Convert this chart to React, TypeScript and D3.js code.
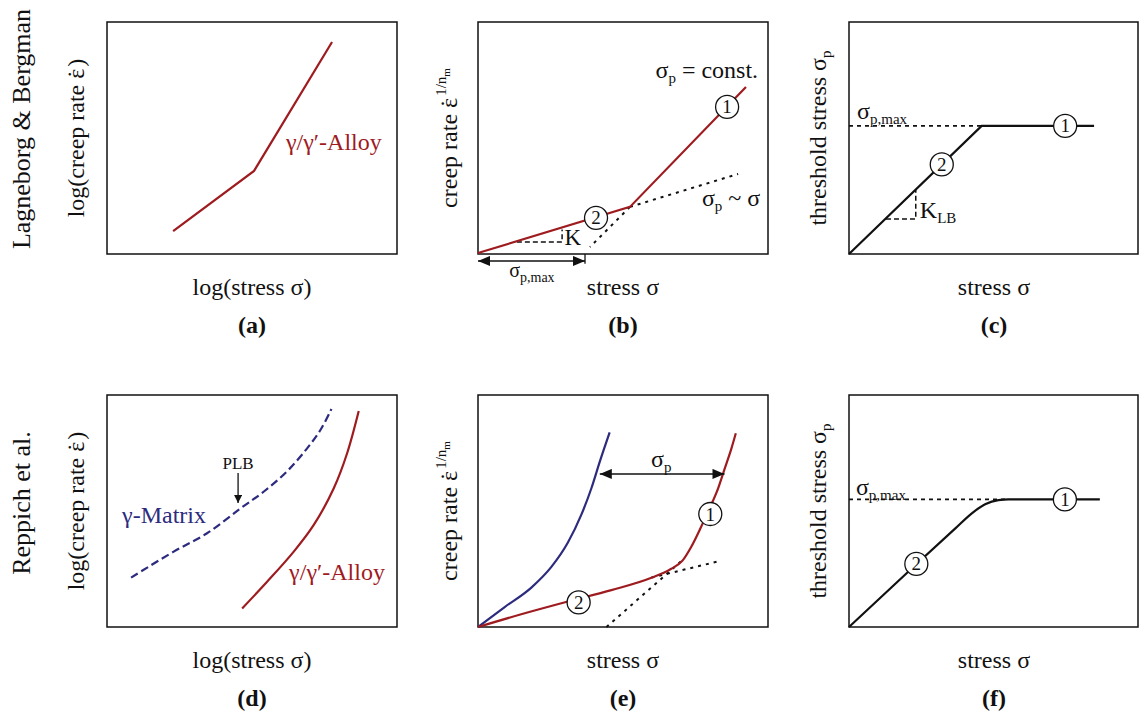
import React from "react";
import * as d3 from "d3";

type Pt = [number, number];
type Mark = { label: string; x: number; y: number };

const FONT = "Liberation Serif, Times New Roman, serif";
const RED = "#9e1b1f";
const BLUE = "#2d2b7e";
const INK = "#111";

const rowLabels = ["Lagneborg & Bergman", "Reppich et al."];
const panelLetters = ["(a)", "(b)", "(c)", "(d)", "(e)", "(f)"];

// all curves in % of the panel box: stress to the right, rate / threshold up
const aAlloy: Pt[] = [[22.8, 9.9], [50.7, 35.8], [77.6, 91.4]];

const bAlloy: Pt[] = [[0, 0.4], [52.4, 20.3], [92.4, 72.0]];
const bShallow: Pt[] = [[52.4, 20.3], [89.7, 34.5]];
const bSteep: Pt[] = [[52.4, 20.3], [38.6, 3.0]];
const bSlope: Pt[] = [[13.4, 5.2], [29.0, 5.2], [29.0, 10.6]];
const bSigmaMax: Pt[] = [[0, -3.0], [36.9, -3.0]];
const bMarks: Mark[] = [{ label: "1", x: 85.9, y: 63.4 }, { label: "2", x: 40.7, y: 15.6 }];

const cThreshold: Pt[] = [[0, 0], [45.9, 55.2], [84.8, 55.2]];
const cMax: Pt[] = [[0, 55.2], [45.9, 55.2]];
const cSlope: Pt[] = [[12.8, 15.1], [23.1, 15.1], [23.1, 27.8]];
const cMarks: Mark[] = [{ label: "1", x: 74.8, y: 55.2 }, { label: "2", x: 32.1, y: 38.6 }];

const dMatrix: Pt[] = [[8.3, 21.3], [23, 32.5], [34.5, 40.4], [46, 51.1], [54, 58.3], [62, 67], [69, 77], [73.6, 84.9], [77.4, 94]];
const dAlloy: Pt[] = [[46.6, 8], [55.2, 19.5], [64.4, 32.5], [71.3, 44], [78.2, 59.8], [82.8, 74.9], [86.8, 93.1]];
const dPLB: Pt[] = [[45.2, 66.4], [45.2, 53.4]];

const eMatrix: Pt[] = [[0, 0], [9.2, 8.6], [18.4, 17.0], [25.3, 25.9], [31, 36.4], [35.6, 48.3], [39.1, 59.8], [42, 71.3], [45.4, 83.9]];
const eAlloy: Pt[] = [[0, 0], [14.9, 5.5], [31, 11.0], [46, 15.9], [59.8, 21.2], [66.5, 25.0], [70.5, 28.6], [73.5, 34.5], [76.5, 42.0], [79.3, 49.7], [82.8, 59.8], [85.1, 68.4], [87.4, 77], [88.9, 83.5]];
const eShallow: Pt[] = [[59.8, 21.3], [83.9, 28.6]];
const eSteep: Pt[] = [[44.3, 0], [70.3, 28.6]];
const eSigmaP: Pt[] = [[42.0, 66], [85.0, 66]];
const eMarks: Mark[] = [{ label: "1", x: 80.1, y: 48.7 }, { label: "2", x: 34.7, y: 10.6 }];

const fThreshold: Pt[] = [[0, 0], [23, 26.7], [36.8, 42.5], [42.5, 49], [47.1, 52.9], [51.7, 54.7], [55.2, 55], [86.8, 55]];
const fMax: Pt[] = [[0, 55], [55.2, 55]];
const fMarks: Mark[] = [{ label: "1", x: 74.7, y: 55 }, { label: "2", x: 23.3, y: 27.2 }];

const colLeft = [107, 478, 849];
const colWidth = [290, 290, 289];
const rowTop = [22, 395];
const H = 232;

type Sc = d3.ScaleLinear<number, number>;

const path = (x: Sc, y: Sc, pts: Pt[], curve: d3.CurveFactory = d3.curveLinear) =>
  d3.line<Pt>().x(d => x(d[0])).y(d => y(d[1])).curve(curve)(pts) || "";

const Marks = ({ x, y, marks }: { x: Sc; y: Sc; marks: Mark[] }) => (
  <g>
    {marks.map(m => (
      <g key={m.label}>
        <circle cx={x(m.x)} cy={y(m.y)} r={11.5} fill="white" stroke={INK} strokeWidth={1.3} />
        <text x={x(m.x)} y={y(m.y) + 6.5} textAnchor="middle" fontSize={19}>{m.label}</text>
      </g>
    ))}
  </g>
);

const Panel = ({ col, row, xLabel, yLabel, yX, children }: {
  col: number; row: number; xLabel: React.ReactNode; yLabel: React.ReactNode; yX: number;
  children: (x: Sc, y: Sc) => React.ReactNode;
}) => {
  const left = colLeft[col];
  const top = rowTop[row];
  const w = colWidth[col];
  const x = d3.scaleLinear().domain([0, 100]).range([left, left + w]);
  const y = d3.scaleLinear().domain([0, 100]).range([top + H, top]);
  const cx = left + 145;
  return (
    <g>
      <rect x={left} y={top} width={w} height={H} fill="none" stroke={INK} strokeWidth={1.5} />
      {children(x, y)}
      <text transform={`translate(${yX},${top + 116}) rotate(-90)`} textAnchor="middle" fontSize={24}>{yLabel}</text>
      <text x={cx} y={top + 273} textAnchor="middle" fontSize={24}>{xLabel}</text>
      <text x={cx} y={top + 311} textAnchor="middle" fontSize={24} fontWeight="bold">{panelLetters[row * 3 + col]}</text>
    </g>
  );
};

const Sub = ({ children, size = 15 }: { children: React.ReactNode; size?: number }) => (
  <tspan fontSize={size} dy={5}>{children}</tspan>
);

// ε with a dot above it (time derivative)
const EpsDot = () => (
  <><tspan>ε</tspan><tspan dx={-9.5}>˙</tspan><tspan dx={1.5}>{"\u200a"}</tspan></>
);

const rateLabel = (
  <>creep rate <EpsDot /><tspan fontSize={15} dy={-11}>1/n</tspan><tspan fontSize={11} dy={4}>m</tspan></>
);
const thresholdLabel = <>threshold stress σ<Sub>p</Sub></>;
const logLabel = <>log(creep rate <EpsDot />)</>;

export default function App() {
  return (
    <svg width={1139} height={715} style={{ position: "absolute", left: 0, top: 0, background: "white", fontFamily: FONT }}
      fill={INK}>
      <defs>
        <marker id="ah" viewBox="0 0 12 10" refX={12} refY={5} markerUnits="userSpaceOnUse"
          markerWidth={14} markerHeight={10} orient="auto-start-reverse">
          <path d="M0,0 L12,5 L0,10 z" fill={INK} />
        </marker>
        <marker id="ahs" viewBox="0 0 10 10" refX={10} refY={5} markerUnits="userSpaceOnUse"
          markerWidth={9} markerHeight={8} orient="auto">
          <path d="M0,0 L10,5 L0,10 z" fill={INK} />
        </marker>
      </defs>

      {rowLabels.map((t, i) => (
        <text key={t} transform={`translate(29.5,${rowTop[i] + (i === 0 ? 107 : 108)}) rotate(-90)`}
          textAnchor="middle" fontSize={26}>{t}</text>
      ))}

      <Panel col={0} row={0} xLabel="log(stress σ)" yLabel={logLabel} yX={83.5}>
        {(x, y) => (
          <g>
            <path d={path(x, y, aAlloy)} fill="none" stroke={RED} strokeWidth={2.2} />
            <text x={x(61.7)} y={y(44.8)} fontSize={24} fill={RED}>γ/γ′-Alloy</text>
          </g>
        )}
      </Panel>

      <Panel col={1} row={0} xLabel="stress σ" yLabel={rateLabel} yX={457}>
        {(x, y) => (
          <g>
            <path d={path(x, y, bShallow)} fill="none" stroke={INK} strokeWidth={2} strokeDasharray="3,5" />
            <path d={path(x, y, bSteep)} fill="none" stroke={INK} strokeWidth={2} strokeDasharray="3,5" />
            <path d={path(x, y, bSlope)} fill="none" stroke={INK} strokeWidth={1.5} strokeDasharray="5,3" />
            <path d={path(x, y, bAlloy)} fill="none" stroke={RED} strokeWidth={2.2} />
            <path d={path(x, y, bSigmaMax)} fill="none" stroke={INK} strokeWidth={1.5}
              markerStart="url(#ah)" markerEnd="url(#ah)" />
            <line x1={x(36.9)} x2={x(36.9)} y1={y(0)} y2={y(-4.2)} stroke={INK} strokeWidth={1.3} />
            <text x={x(18.6)} y={y(-9.9)} textAnchor="middle" fontSize={20}>σ<Sub size={14}>p,max</Sub></text>
            <text x={x(29.8)} y={y(3.9)} fontSize={23}>K</text>
            <text x={x(96.6)} y={y(75.9)} textAnchor="end" fontSize={24}>σ<Sub>p</Sub><tspan dy={-5}> = const.</tspan></text>
            <text x={x(77.2)} y={y(20.7)} fontSize={24}>σ<Sub>p</Sub><tspan dy={-5}> ~ σ</tspan></text>
            <Marks x={x} y={y} marks={bMarks} />
          </g>
        )}
      </Panel>

      <Panel col={2} row={0} xLabel="stress σ" yLabel={thresholdLabel} yX={826}>
        {(x, y) => (
          <g>
            <path d={path(x, y, cMax)} fill="none" stroke={INK} strokeWidth={1.8} strokeDasharray="4,4" />
            <path d={path(x, y, cSlope)} fill="none" stroke={INK} strokeWidth={1.5} strokeDasharray="5,3" />
            <path d={path(x, y, cThreshold)} fill="none" stroke={INK} strokeWidth={2.2} />
            <text x={x(2.8)} y={y(58.2)} fontSize={24}>σ<Sub>p,max</Sub></text>
            <text x={x(24.5)} y={y(15.5)} fontSize={24}>K<Sub>LB</Sub></text>
            <Marks x={x} y={y} marks={cMarks} />
          </g>
        )}
      </Panel>

      <Panel col={0} row={1} xLabel="log(stress σ)" yLabel={logLabel} yX={83.5}>
        {(x, y) => (
          <g>
            <path d={path(x, y, dMatrix, d3.curveCatmullRom)} fill="none" stroke={BLUE} strokeWidth={2.2} strokeDasharray="8,4" />
            <path d={path(x, y, dAlloy, d3.curveCatmullRom)} fill="none" stroke={RED} strokeWidth={2.2} />
            <path d={path(x, y, dPLB)} fill="none" stroke={INK} strokeWidth={1.3} markerEnd="url(#ahs)" />
            <text x={x(45.2)} y={y(68.1)} textAnchor="middle" fontSize={17}>PLB</text>
            <text x={x(5.2)} y={y(44.8)} fontSize={24} fill={BLUE}>γ-Matrix</text>
            <text x={x(62.8)} y={y(20.3)} fontSize={24} fill={RED}>γ/γ′-Alloy</text>
          </g>
        )}
      </Panel>

      <Panel col={1} row={1} xLabel="stress σ" yLabel={rateLabel} yX={457}>
        {(x, y) => (
          <g>
            <path d={path(x, y, eShallow)} fill="none" stroke={INK} strokeWidth={2} strokeDasharray="3,5" />
            <path d={path(x, y, eSteep)} fill="none" stroke={INK} strokeWidth={2} strokeDasharray="3,5" />
            <path d={path(x, y, eMatrix, d3.curveMonotoneX)} fill="none" stroke={BLUE} strokeWidth={2.2} />
            <path d={path(x, y, eAlloy, d3.curveMonotoneX)} fill="none" stroke={RED} strokeWidth={2.2} />
            <path d={path(x, y, eSigmaP)} fill="none" stroke={INK} strokeWidth={1.5}
              markerStart="url(#ah)" markerEnd="url(#ah)" />
            <text x={x(63.2)} y={y(68.8)} textAnchor="middle" fontSize={24}>σ<Sub>p</Sub></text>
            <Marks x={x} y={y} marks={eMarks} />
          </g>
        )}
      </Panel>

      <Panel col={2} row={1} xLabel="stress σ" yLabel={thresholdLabel} yX={826}>
        {(x, y) => (
          <g>
            <path d={path(x, y, fMax)} fill="none" stroke={INK} strokeWidth={1.8} strokeDasharray="4,4" />
            <path d={path(x, y, fThreshold, d3.curveMonotoneX)} fill="none" stroke={INK} strokeWidth={2.2} />
            <text x={x(2.4)} y={y(56.9)} fontSize={24}>σ<Sub>p,max</Sub></text>
            <Marks x={x} y={y} marks={fMarks} />
          </g>
        )}
      </Panel>
    </svg>
  );
}
